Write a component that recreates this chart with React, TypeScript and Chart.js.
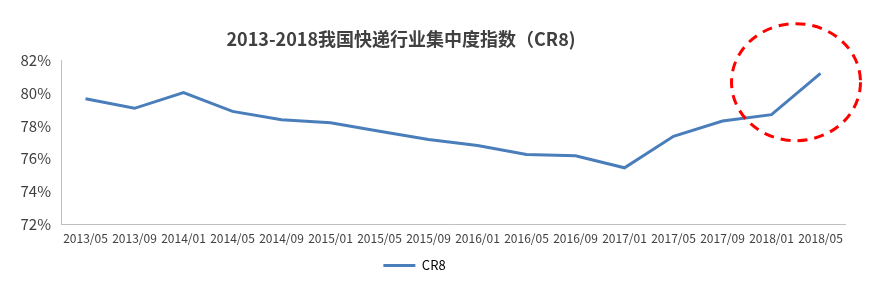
import React, { useEffect, useRef } from "react";
import { Chart, registerables } from "chart.js";

Chart.register(...registerables);

// ---- data ----
const categories = [
  "2013/05", "2013/09", "2014/01", "2014/05", "2014/09", "2015/01", "2015/05", "2015/09",
  "2016/01", "2016/05", "2016/09", "2017/01", "2017/05", "2017/09", "2018/01", "2018/05",
];
const cr8Values = [
  79.67, 79.08, 80.04, 78.89, 78.38, 78.19, 77.68, 77.17,
  76.81, 76.26, 76.18, 75.44, 77.37, 78.3, 78.69, 81.22,
];
const seriesName = "CR8";
const titleText = "2013-2018我国快递行业集中度指数（CR8)";
const yMin = 72;
const yMax = 82;
const yStep = 2;

// highlight ellipse anchor (in data space: category index, value)
const highlightIndex = 14.5;
const highlightValue = 80.68;

// ---- style ----
const FONT = "'Noto Sans CJK SC', 'Open Sans', sans-serif";
const LINE_COLOR = "#4a7ebb";
const TEXT_COLOR = "#404040";
const AXIS_COLOR = "#bfbfbf";
const TITLE_SHIFT = -21.5;
const LEGEND_SHIFT = -8;

const shiftPlugin = {
  id: "shiftBoxes",
  afterLayout(chart: any) {
    const t = chart.titleBlock;
    if (t) {
      t.left += TITLE_SHIFT;
      t.right += TITLE_SHIFT;
    }
    const l = chart.legend;
    if (l) {
      l.left += LEGEND_SHIFT;
      l.right += LEGEND_SHIFT;
    }
  },
};

const ellipsePlugin = {
  id: "highlightEllipse",
  afterDatasetsDraw(chart: any) {
    const { ctx, scales } = chart;
    const cx = scales.x.getPixelForValue(highlightIndex);
    const cy = scales.y.getPixelForValue(highlightValue);
    ctx.save();
    ctx.beginPath();
    ctx.ellipse(cx, cy, 64.5, 58.5, 0, 0, Math.PI * 2);
    ctx.strokeStyle = "#ff0000";
    ctx.lineWidth = 3;
    ctx.setLineDash([10, 7]);
    ctx.stroke();
    ctx.restore();
  },
};

export default function App() {
  const canvasRef = useRef<HTMLCanvasElement | null>(null);

  useEffect(() => {
    if (!canvasRef.current) return;
    const chart = new Chart(canvasRef.current, {
      type: "line",
      data: {
        labels: categories,
        datasets: [
          {
            label: seriesName,
            data: cr8Values,
            borderColor: LINE_COLOR,
            backgroundColor: LINE_COLOR,
            borderWidth: 3,
            pointRadius: 0,
            tension: 0,
            fill: false,
          },
        ],
      },
      options: {
        animation: false,
        responsive: false,
        layout: { padding: { left: 0, right: 37, top: 0, bottom: 0 } },
        plugins: {
          title: {
            display: true,
            text: titleText,
            color: TEXT_COLOR,
            font: { family: FONT, size: 18, weight: "bold" },
            padding: { top: 28, bottom: 11 },
          },
          legend: {
            position: "bottom",
            labels: {
              boxWidth: 32,
              boxHeight: 3,
              padding: 10,
              color: TEXT_COLOR,
              font: { family: FONT, size: 13 },
              generateLabels: () => [
                {
                  text: seriesName,
                  fillStyle: LINE_COLOR,
                  strokeStyle: LINE_COLOR,
                  lineWidth: 0,
                  hidden: false,
                  datasetIndex: 0,
                } as any,
              ],
            },
          },
          tooltip: { enabled: false },
        },
        scales: {
          x: {
            offset: true,
            grid: { display: false, drawTicks: false },
            border: { display: true, color: AXIS_COLOR, width: 1 },
            ticks: {
              autoSkip: false,
              maxRotation: 0,
              minRotation: 0,
              padding: 7,
              color: TEXT_COLOR,
              font: { family: FONT, size: 12 },
            },
            afterFit: (s: any) => {
              s.height = 25;
            },
          },
          y: {
            min: yMin,
            max: yMax,
            grid: { display: false, drawTicks: false },
            border: { display: true, color: AXIS_COLOR, width: 1 },
            ticks: {
              stepSize: yStep,
              padding: 10,
              color: TEXT_COLOR,
              font: { family: FONT, size: 15 },
              callback: (v: any) => `${v}%`,
            },
            afterFit: (s: any) => {
              s.width = 61;
            },
          },
        },
      },
      plugins: [shiftPlugin, ellipsePlugin],
    });
    return () => chart.destroy();
  }, []);

  return (
    <canvas
      ref={canvasRef}
      width={882}
      height={282}
      style={{ position: "fixed", left: 0, top: 0, width: 882, height: 282 }}
    />
  );
}
